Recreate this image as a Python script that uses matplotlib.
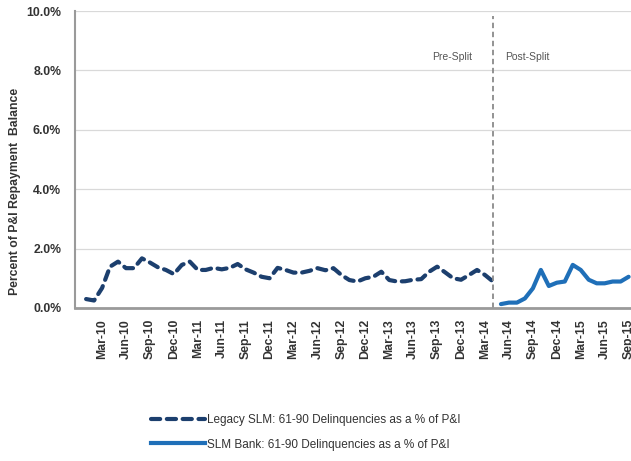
import matplotlib.pyplot as plt
from matplotlib.lines import Line2D

plt.rcParams['font.family'] = ['Liberation Sans', 'DejaVu Sans']

# monthly series, index 0 = Jan-10
legacy = [0.30, 0.25, 0.67, 1.39, 1.56, 1.34, 1.34, 1.67, 1.53, 1.37, 1.28, 1.14,
          1.45, 1.56, 1.28, 1.28, 1.35, 1.30, 1.35, 1.48, 1.30, 1.19, 1.05, 1.00,
          1.35, 1.28, 1.19, 1.19, 1.25, 1.34, 1.27, 1.34, 1.11, 0.94, 0.89, 1.00,
          1.05, 1.22, 0.94, 0.89, 0.90, 0.95, 0.97, 1.22, 1.39, 1.20, 1.00, 0.95,
          1.11, 1.28, 1.11, 0.89]
slm_bank = [0.13, 0.18, 0.18, 0.32, 0.66, 1.28, 0.74, 0.85, 0.89, 1.45, 1.28, 0.95,
            0.83, 0.83, 0.89, 0.89, 1.05]
bank_start = 52  # May-14

months = ['Jan', 'Feb', 'Mar', 'Apr', 'May', 'Jun', 'Jul', 'Aug', 'Sep', 'Oct', 'Nov', 'Dec']
n_months = bank_start + len(slm_bank)
labels = [f'{months[i % 12]}-{10 + i // 12:02d}' for i in range(n_months)]
tick_idx = list(range(2, n_months, 3))

legacy_color = '#1c3f6e'
bank_color = '#1f6fb8'
dash = (0, (2.2, 1.6))

fig = plt.figure(figsize=(6.31, 4.61), dpi=100)
ax = fig.add_axes([0.119, 0.332, 0.881, 0.644])

ax.plot(range(len(legacy)), legacy, color=legacy_color, lw=3.0,
        linestyle=dash, dash_capstyle='round', solid_capstyle='round')
ax.plot(range(bank_start, bank_start + len(slm_bank)), slm_bank, color=bank_color,
        lw=3.0, solid_capstyle='round', solid_joinstyle='round')

ax.axvline(51, color='#8a8a8a', lw=1.3, linestyle=(0, (3, 2)), ymax=0.985)
ax.text(45.9, 8.45, 'Pre-Split', fontsize=7.5, color='#555555', ha='center', va='center')
ax.text(55.3, 8.45, 'Post-Split', fontsize=7.5, color='#555555', ha='center', va='center')

ax.set_xlim(-1.38, 68.3)
ax.set_ylim(0, 10)
ax.set_yticks([0, 2, 4, 6, 8, 10])
ax.set_yticklabels([f'{v:.1f}%' for v in [0, 2, 4, 6, 8, 10]], fontsize=8.8,
                   fontweight='bold', color='#333333')
ax.set_xticks(tick_idx)
ax.set_xticklabels([labels[i] for i in tick_idx], rotation=90, fontsize=8.8,
                   fontweight='bold', color='#333333')
ax.tick_params(axis='x', length=0, pad=8)
ax.tick_params(axis='y', length=0, pad=10)
ax.grid(axis='y', color='#d9d9d9', lw=0.9)
ax.set_axisbelow(True)
for s in ['top', 'right']:
    ax.spines[s].set_visible(False)
ax.spines['left'].set_color('#9a9a9a')
ax.spines['left'].set_linewidth(1.5)
ax.spines['bottom'].set_color('#9a9a9a')
ax.spines['bottom'].set_linewidth(2)

ax.set_ylabel('Percent of P&I Repayment  Balance', fontsize=8.8, fontweight='bold',
              color='#333333')
ax.yaxis.set_label_coords(-0.098, 0.394)

handles = [
    Line2D([], [], color=legacy_color, lw=3.0, linestyle=dash, dash_capstyle='round'),
    Line2D([], [], color=bank_color, lw=3.0),
]
fig.legend(handles, ['Legacy SLM: 61-90 Delinquencies as a % of P&I',
                     'SLM Bank: 61-90 Delinquencies as a % of P&I'],
           loc='center left', bbox_to_anchor=(0.222, 0.062), frameon=False,
           fontsize=8.5, handlelength=4.6, handletextpad=0.15, labelspacing=1.05,
           labelcolor='#333333')

fig.savefig('out.png', dpi=100)
